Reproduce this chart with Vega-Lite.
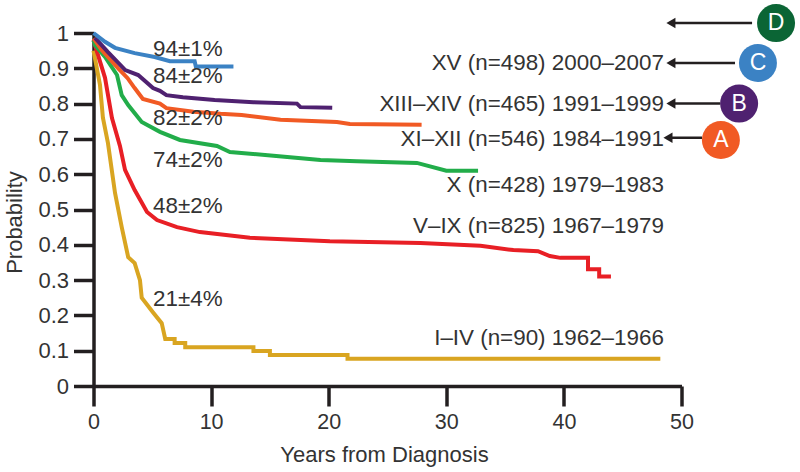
{"$schema":"https://vega.github.io/schema/vega-lite/v6.json","width":588,"height":353,"padding":{"left":93.5,"top":33,"right":118.5,"bottom":86},"autosize":{"type":"none"},"background":"white","view":{"stroke":null},"config":{"font":"Liberation Sans"},
"datasets":{
"curves":[
{"s":"I-IV","x":0,"y":0.95},{"s":"I-IV","x":0.55,"y":0.853},{"s":"I-IV","x":0.8,"y":0.76},{"s":"I-IV","x":1.23,"y":0.688},{"s":"I-IV","x":1.83,"y":0.547},{"s":"I-IV","x":2.4,"y":0.45},{"s":"I-IV","x":2.95,"y":0.365},{"s":"I-IV","x":3.5,"y":0.348},{"s":"I-IV","x":3.95,"y":0.3},{"s":"I-IV","x":4.1,"y":0.25},{"s":"I-IV","x":5.1,"y":0.207},{"s":"I-IV","x":5.8,"y":0.178},{"s":"I-IV","x":6.1,"y":0.133},{"s":"I-IV","x":6.9,"y":0.133},{"s":"I-IV","x":6.9,"y":0.122},{"s":"I-IV","x":7.8,"y":0.122},{"s":"I-IV","x":7.8,"y":0.11},{"s":"I-IV","x":13.6,"y":0.11},{"s":"I-IV","x":13.6,"y":0.099},{"s":"I-IV","x":15,"y":0.099},{"s":"I-IV","x":15,"y":0.088},{"s":"I-IV","x":21.6,"y":0.088},{"s":"I-IV","x":21.6,"y":0.077},{"s":"I-IV","x":48.2,"y":0.077},
{"s":"V-IX","x":0,"y":0.98},{"s":"V-IX","x":0.38,"y":0.938},{"s":"V-IX","x":0.98,"y":0.873},{"s":"V-IX","x":1.57,"y":0.759},{"s":"V-IX","x":2.25,"y":0.68},{"s":"V-IX","x":2.68,"y":0.612},{"s":"V-IX","x":3.5,"y":0.555},{"s":"V-IX","x":4.55,"y":0.493},{"s":"V-IX","x":5.4,"y":0.47},{"s":"V-IX","x":7.1,"y":0.45},{"s":"V-IX","x":9.05,"y":0.436},{"s":"V-IX","x":13.3,"y":0.42},{"s":"V-IX","x":20.1,"y":0.41},{"s":"V-IX","x":27.8,"y":0.405},{"s":"V-IX","x":32.9,"y":0.397},{"s":"V-IX","x":35.7,"y":0.385},{"s":"V-IX","x":37.8,"y":0.382},{"s":"V-IX","x":38.8,"y":0.368},{"s":"V-IX","x":39.7,"y":0.363},{"s":"V-IX","x":42.05,"y":0.363},{"s":"V-IX","x":42.05,"y":0.331},{"s":"V-IX","x":43,"y":0.331},{"s":"V-IX","x":43,"y":0.31},{"s":"V-IX","x":44,"y":0.31},
{"s":"X","x":0,"y":0.98},{"s":"X","x":0.13,"y":0.966},{"s":"X","x":0.98,"y":0.932},{"s":"X","x":2,"y":0.881},{"s":"X","x":2.4,"y":0.824},{"s":"X","x":2.95,"y":0.796},{"s":"X","x":4.1,"y":0.748},{"s":"X","x":5.65,"y":0.72},{"s":"X","x":7.35,"y":0.697},{"s":"X","x":10.5,"y":0.68},{"s":"X","x":11.6,"y":0.663},{"s":"X","x":15.3,"y":0.652},{"s":"X","x":19.3,"y":0.64},{"s":"X","x":22.4,"y":0.637},{"s":"X","x":27.5,"y":0.632},{"s":"X","x":30,"y":0.61},{"s":"X","x":32.7,"y":0.61},
{"s":"XI-XII","x":0,"y":0.985},{"s":"XI-XII","x":0.7,"y":0.952},{"s":"XI-XII","x":2.1,"y":0.9},{"s":"XI-XII","x":2.9,"y":0.872},{"s":"XI-XII","x":3.5,"y":0.844},{"s":"XI-XII","x":4.2,"y":0.813},{"s":"XI-XII","x":5.65,"y":0.8},{"s":"XI-XII","x":6.2,"y":0.787},{"s":"XI-XII","x":8.5,"y":0.777},{"s":"XI-XII","x":10.8,"y":0.771},{"s":"XI-XII","x":12.6,"y":0.768},{"s":"XI-XII","x":15.9,"y":0.754},{"s":"XI-XII","x":20.7,"y":0.748},{"s":"XI-XII","x":21.8,"y":0.742},{"s":"XI-XII","x":27.9,"y":0.74},
{"s":"XIII-XIV","x":0.13,"y":0.986},{"s":"XIII-XIV","x":1.23,"y":0.946},{"s":"XIII-XIV","x":2.7,"y":0.895},{"s":"XIII-XIV","x":3.8,"y":0.881},{"s":"XIII-XIV","x":5.06,"y":0.844},{"s":"XIII-XIV","x":5.65,"y":0.836},{"s":"XIII-XIV","x":6.2,"y":0.824},{"s":"XIII-XIV","x":7.6,"y":0.818},{"s":"XIII-XIV","x":10.3,"y":0.81},{"s":"XIII-XIV","x":13.6,"y":0.804},{"s":"XIII-XIV","x":17.3,"y":0.8},{"s":"XIII-XIV","x":17.6,"y":0.79},{"s":"XIII-XIV","x":20.3,"y":0.788},
{"s":"XV","x":0,"y":1},{"s":"XV","x":0.98,"y":0.975},{"s":"XV","x":1.83,"y":0.958},{"s":"XV","x":3.5,"y":0.943},{"s":"XV","x":5.2,"y":0.932},{"s":"XV","x":6.5,"y":0.92},{"s":"XV","x":8.6,"y":0.92},{"s":"XV","x":8.7,"y":0.905},{"s":"XV","x":11.9,"y":0.905}],
"pct":[{"x":5.06,"y":0.955,"t":"94±1%"},{"x":5.06,"y":0.878,"t":"84±2%"},{"x":5.06,"y":0.759,"t":"82±2%"},{"x":5.06,"y":0.64,"t":"74±2%"},{"x":5.06,"y":0.51,"t":"48±2%"},{"x":5.06,"y":0.246,"t":"21±4%"}],
"names":[{"x":48.5,"y":0.915,"t":"XV (n=498) 2000–2007"},{"x":48.5,"y":0.8,"t":"XIII–XIV (n=465) 1991–1999"},{"x":48.5,"y":0.7,"t":"XI–XII (n=546) 1984–1991"},{"x":48.5,"y":0.57,"t":"X (n=428) 1979–1983"},{"x":48.5,"y":0.453,"t":"V–IX (n=825) 1967–1979"},{"x":48.5,"y":0.136,"t":"I–IV (n=90) 1962–1966"}],
"arrows":[{"x":49.1,"x2":56,"y":1.028},{"x":49.1,"x2":54.55,"y":0.915},{"x":49.1,"x2":53.3,"y":0.8},{"x":48.85,"x2":51.75,"y":0.703}],
"badges":[{"k":"D","x":58.04,"y":1.028,"c":"#0b6535"},{"k":"C","x":56.5,"y":0.915,"c":"#3b82c4"},{"k":"B","x":54.9,"y":0.8,"c":"#4f2170"},{"k":"A","x":53.35,"y":0.697,"c":"#f15a24"}]},
"encoding":{
"x":{"field":"x","type":"quantitative","scale":{"domain":[0,50],"nice":false},"axis":{"values":[0,10,20,30,40,50],"grid":false,"title":"Years from Diagnosis","titleFont":"Liberation Sans","titleFontSize":22,"titleFontWeight":"normal","titleColor":"#333333","titlePadding":12,"titleX":290.5,"labelFont":"Liberation Sans","labelFontSize":21.5,"labelColor":"#333333","labelPadding":5,"tickSize":20,"tickWidth":3.5,"tickColor":"#231f20","domainWidth":3.5,"domainColor":"#231f20","labelFlush":false}},
"y":{"field":"y","type":"quantitative","scale":{"domain":[0,1],"nice":false},"axis":{"values":[0,0.1,0.2,0.3,0.4,0.5,0.6,0.7,0.8,0.9,1],"format":"~g","labelOverlap":false,"grid":false,"title":"Probability","titleFont":"Liberation Sans","titleFontSize":22,"titleFontWeight":"normal","titleColor":"#333333","titlePadding":11,"titleY":189,"labelFont":"Liberation Sans","labelFontSize":22,"labelColor":"#333333","labelPadding":5,"tickSize":20,"tickWidth":3.5,"tickColor":"#231f20","domainWidth":3.5,"domainColor":"#231f20"}}},
"layer":[
{"data":{"name":"curves"},"mark":{"type":"line","strokeWidth":4,"interpolate":"linear","strokeJoin":"miter"},"encoding":{
"color":{"field":"s","type":"nominal","legend":null,"sort":null,"scale":{"domain":["I-IV","V-IX","X","XI-XII","XIII-XIV","XV"],"range":["#d9a521","#e81f25","#22ad4a","#f15a24","#4f2170","#3b82c4"]}},
"order":{"field":"x","type":"quantitative"}}},
{"data":{"name":"pct"},"mark":{"type":"text","align":"left","baseline":"middle","fontSize":22.4,"font":"Liberation Sans","color":"#333333"},"encoding":{"text":{"field":"t"}}},
{"data":{"name":"names"},"mark":{"type":"text","align":"right","baseline":"middle","fontSize":22.4,"font":"Liberation Sans","color":"#333333"},"encoding":{"text":{"field":"t"}}},
{"data":{"name":"arrows"},"mark":{"type":"rule","strokeWidth":2.5,"color":"#231f20"},"encoding":{"x2":{"field":"x2"}}},
{"data":{"name":"arrows"},"mark":{"type":"point","shape":"triangle-left","filled":true,"opacity":1,"size":110,"color":"#231f20"},"encoding":{}},
{"data":{"name":"badges"},"mark":{"type":"circle","opacity":1,"size":1444},"encoding":{"color":{"field":"c","type":"nominal","scale":null}}},
{"data":{"name":"badges"},"mark":{"type":"text","fontSize":23,"font":"Liberation Sans","color":"white","align":"center","baseline":"middle"},"encoding":{"text":{"field":"k"}}}
],"resolve":{"scale":{"color":"independent"}}}
